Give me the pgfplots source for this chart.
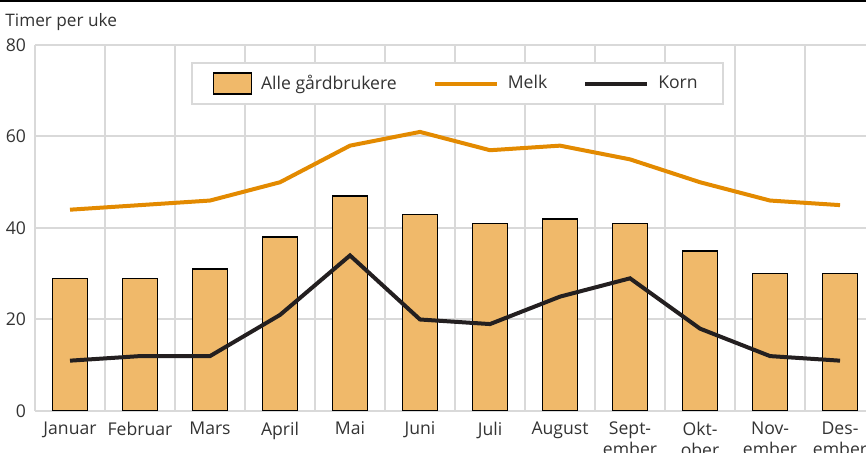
\documentclass[border=0pt]{standalone}
\usepackage{fontspec}
\setmainfont{Open Sans}
\usepackage{pgfplots}
\pgfplotsset{compat=1.18}
\usetikzlibrary{calc}
\definecolor{barfill}{HTML}{F0B96A}
\definecolor{melk}{HTML}{E38A00}
\definecolor{korn}{HTML}{231F20}
\definecolor{gridc}{HTML}{D9D9D9}
\definecolor{txt}{HTML}{333333}

\begin{document}
\begin{tikzpicture}
\begin{axis}[
    scale only axis,
    width=415.5pt, height=183pt,
    xmin=-0.5, xmax=11.371, ymin=0, ymax=80,
    ytick={0,20,40,60,80},
    xtick={0,...,11},
    xticklabels={Januar,Februar,Mars,April,Mai,Juni,Juli,August,Sept-\\ember,Okt-\\ober,Nov-\\ember,Des-\\ember},
    minor xtick={-0.5,0.5,...,11.5},
    xminorgrids=true, ymajorgrids=true,
    grid style={gridc, line width=1pt},
    minor grid style={gridc, line width=1pt},
    major tick length=0pt, minor tick length=0pt,
    axis x line*=bottom, axis y line*=left,
    axis line style={gridc, line width=1pt, -},
    tick label style={font=\fontsize{8.8}{10.5}\selectfont, text=txt},
    x tick label style={align=center, anchor=north, yshift=-2pt},
    y tick label style={xshift=-1pt},
    /pgf/number format/assume math mode=true,
    legend columns=3,
    legend style={at={(0.508,0.954)}, anchor=north, draw=gridc, line width=1pt,
        font=\fontsize{8.8}{10}\selectfont, text=txt,
        inner xsep=10.5pt, inner ysep=4pt,
        /tikz/every even column/.append style={column sep=16pt},
        /tikz/every odd column/.append style={column sep=2.5pt}},
]
\addplot[ybar, bar width=17.5pt, fill=barfill, draw=black, line width=0.7pt,
    legend image code/.code={\draw[fill=barfill, draw=black, line width=0.7pt] (0pt,-5.25pt) rectangle (19pt,5.25pt);}]
  coordinates {(0,29)(1,29)(2,31)(3,38)(4,47)(5,43)(6,41)(7,42)(8,41)(9,35)(10,30)(11,30)};
\addlegendentry{Alle gårdbrukere}
\addplot[melk, line width=2pt, mark=none,
    legend image code/.code={\draw[melk, line width=2pt] (0pt,0pt) -- (31pt,0pt);}]
  coordinates {(0,44)(1,45)(2,46)(3,50)(4,58)(5,61)(6,57)(7,58)(8,55)(9,50)(10,46)(11,45)};
\addlegendentry{Melk}
\addplot[korn, line width=2pt, mark=none,
    legend image code/.code={\draw[korn, line width=2pt] (0pt,0pt) -- (31pt,0pt);}]
  coordinates {(0,11)(1,12)(2,12)(3,21)(4,34)(5,20)(6,19)(7,25)(8,29)(9,18)(10,12)(11,11)};
\addlegendentry{Korn}
\coordinate (bl) at (rel axis cs:0,0);
\coordinate (tr) at (rel axis cs:1,1);
\end{axis}
\draw[black, line width=1pt] ($(bl|-tr)+(-17.5pt,22pt)$) -- ($(tr)+(0pt,22pt)$);
\node[anchor=west, inner sep=0pt, font=\fontsize{8.6}{10}\selectfont, text=txt] at ($(bl|-tr)+(-15pt,11.5pt)$) {Timer per uke};
\pgfresetboundingbox
\path ($(bl)+(-17.5pt,-21pt)$) rectangle ($(tr)+(0pt,22.5pt)$);
\end{tikzpicture}
\end{document}
